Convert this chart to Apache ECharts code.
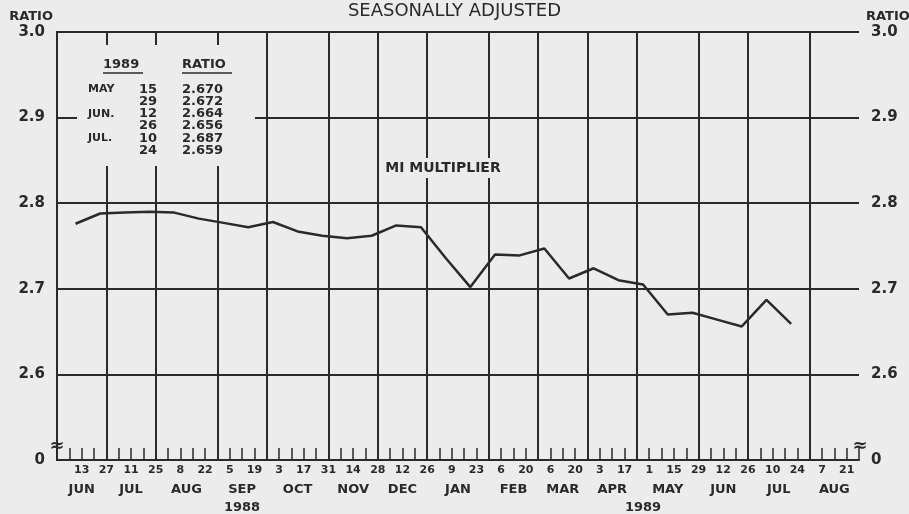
<!DOCTYPE html>
<html>
<head>
<meta charset="utf-8">
<script src="https://cdn.jsdelivr.net/npm/echarts@6/dist/echarts.min.js"></script>
<style>
  html,body{margin:0;padding:0;background:#ececec;}
  #chart{width:909px;height:514px;}
</style>
</head>
<body>
<div id="chart"></div>
<script>
// weekly calendar, Mondays from 1988-05-30 (week 0) to 1989-08-28 (week 65)
const startDate = '1988-05-30'
const monthNames = ['JUN','JUL','AUG','SEP','OCT','NOV','DEC','JAN','FEB','MAR','APR','MAY','JUN','JUL','AUG']
const weeksPerMonth = [4,4,5,4,5,4,4,5,4,4,4,5,4,5,4]
// day labels under every second Monday (weeks 2,4,...,64)
const dayLabels = ['13','27','11','25','8','22','5','19','3','17','31','14','28','12','26',
                   '9','23','6','20','6','20','3','17','1','15','29','12','26','10','24','7','21']
const yearLabels = ['1988','1989']
const yearWeeks = [15, 47.5]

// biweekly M1 multiplier, periods ending on these dates
const periodEnds = ['1988-06-13','1988-06-27','1988-07-11','1988-07-25','1988-08-08','1988-08-22',
  '1988-09-05','1988-09-19','1988-10-03','1988-10-17','1988-10-31','1988-11-14','1988-11-28',
  '1988-12-12','1988-12-26','1989-01-09','1989-01-23','1989-02-06','1989-02-20','1989-03-06',
  '1989-03-20','1989-04-03','1989-04-17','1989-05-01','1989-05-15','1989-05-29','1989-06-12',
  '1989-06-26','1989-07-10','1989-07-24']
const multiplier = [2.776,2.788,2.789,2.790,2.789,2.782,2.777,2.772,2.778,2.767,2.762,2.759,2.762,
  2.774,2.772,2.736,2.702,2.740,2.739,2.747,2.712,2.724,2.710,2.705,2.670,2.672,2.664,2.656,2.687,2.659]
const tableMonths = ['JAN.','FEB.','MAR.','APR.','MAY','JUN.','JUL.','AUG.','SEP.','OCT.','NOV.','DEC.']

const INK = '#2a2a2a'
const PAPER = '#ececec'
const FONT = 'DejaVu Sans'

function weekOf(d){
  return (Date.parse(d) - Date.parse(startDate)) / (7*86400000)
}

// month boundaries and centres on the week scale
const monthEnds = []
const monthCenters = []
let acc = 0
weeksPerMonth.forEach(w=>{
  monthCenters.push(acc + w/2)
  acc += w
  monthEnds.push(acc)
})
const totalWeeks = acc

const lineData = periodEnds.map((d,i)=>[weekOf(d) - 0.5, multiplier[i]])

// inset table from the last six periods
const lastN = 6
const rows = periodEnds.slice(-lastN).map((d,i)=>{
  const dt = new Date(d + 'T00:00:00Z')
  const m = dt.getUTCMonth()
  const prev = i>0 ? new Date(periodEnds[periodEnds.length-lastN+i-1]+'T00:00:00Z').getUTCMonth() : -1
  return {
    month: m!==prev ? tableMonths[m] : '',
    day: String(dt.getUTCDate()),
    val: multiplier[multiplier.length-lastN+i].toFixed(3)
  }
})

const chart = echarts.init(document.getElementById('chart'))

const yLabel = v => Math.abs(v-2.5)<1e-6 ? '0' : v.toFixed(1)

const option = {
  backgroundColor: PAPER,
  animation: false,
  textStyle: {fontFamily: FONT, color: INK},
  title: {
    text: 'SEASONALLY ADJUSTED',
    left: 'center',
    top: -3,
    textStyle: {fontFamily: FONT, fontSize: 18, fontWeight: 'normal', color: INK}
  },
  grid: {left: 57, right: 50, top: 32, bottom: 51},
  xAxis: [
    {
      type: 'value', min: 0, max: totalWeeks, interval: 1,
      axisLine: {show: true, lineStyle: {color: INK, width: 2}},
      axisTick: {show: true, inside: true, length: 12, lineStyle: {color: INK, width: 1.5}},
      splitLine: {show: false},
      axisLabel: {
        margin: 5, fontSize: 11, fontWeight: 'bold', color: INK, fontFamily: FONT,
        formatter: v => {
          const k = Math.round(v)
          return (k%2===0 && k>0 && k<totalWeeks) ? dayLabels[k/2-1] : ''
        }
      }
    },
    {
      type: 'value', min: 0, max: totalWeeks, interval: 0.5, position: 'bottom', offset: 18,
      axisLine: {show: false}, axisTick: {show: false}, splitLine: {show: false},
      axisLabel: {
        margin: 5, fontSize: 13, fontWeight: 'bold', color: INK, fontFamily: FONT,
        formatter: v => {
          const i = monthCenters.findIndex(c=>Math.abs(c-v)<0.01)
          return i>=0 ? monthNames[i] : ''
        }
      }
    },
    {
      type: 'value', min: 0, max: totalWeeks, interval: 0.5, position: 'bottom', offset: 36,
      axisLine: {show: false}, axisTick: {show: false}, splitLine: {show: false},
      axisLabel: {
        margin: 5, fontSize: 13, fontWeight: 'bold', color: INK, fontFamily: FONT,
        formatter: v => {
          const i = yearWeeks.findIndex(c=>Math.abs(c-v)<0.01)
          return i>=0 ? yearLabels[i] : ''
        }
      }
    }
  ],
  yAxis: [
    {
      type: 'value', min: 2.5, max: 3.0, interval: 0.1, position: 'left',
      axisLine: {show: true, lineStyle: {color: INK, width: 2}},
      axisTick: {show: false},
      splitLine: {show: true, lineStyle: {color: INK, width: 2}},
      axisLabel: {margin: 12, fontSize: 15, fontWeight: 'bold', color: INK, fontFamily: FONT, formatter: yLabel}
    },
    {
      type: 'value', min: 2.5, max: 3.0, interval: 0.1, position: 'right',
      axisLine: {show: true, lineStyle: {color: INK, width: 2}},
      axisTick: {show: false},
      splitLine: {show: false},
      axisLabel: {margin: 12, fontSize: 15, fontWeight: 'bold', color: INK, fontFamily: FONT, formatter: yLabel}
    }
  ],
  series: [
    {
      name: 'M1 MULTIPLIER',
      type: 'line',
      xAxisIndex: 0,
      yAxisIndex: 0,
      data: lineData,
      symbol: 'none',
      lineStyle: {color: INK, width: 2.5},
      z: 5,
      markLine: {
        silent: true,
        symbol: 'none',
        label: {show: false},
        lineStyle: {color: INK, width: 2, type: 'solid'},
        data: monthEnds.slice(0,-1).map(w=>({xAxis: w}))
      }
    }
  ],
  graphic: [
    // axis titles
    {type: 'text', z: 101, x: 53, y: 17, style: {text: 'RATIO', font: 'bold 13px "DejaVu Sans"', fill: INK, textAlign: 'right', textVerticalAlign: 'middle'}},
    {type: 'text', z: 101, x: 866, y: 17, style: {text: 'RATIO', font: 'bold 13px "DejaVu Sans"', fill: INK, textAlign: 'left', textVerticalAlign: 'middle'}},
    // inset table with a paper-coloured backing that breaks the grid
    {type: 'rect', z: 100, shape: {x: 77, y: 45, width: 178, height: 121}, style: {fill: PAPER}},
    {type: 'text', z: 101, left: 103, top: 58, style: {text: '1989', font: 'bold 13px "DejaVu Sans"', fill: INK}},
    {type: 'line', z: 101, shape: {x1: 103, y1: 73, x2: 143, y2: 73}, style: {stroke: INK, lineWidth: 1.5}},
    {type: 'text', z: 101, left: 182, top: 58, style: {text: 'RATIO', font: 'bold 13px "DejaVu Sans"', fill: INK}},
    {type: 'line', z: 101, shape: {x1: 182, y1: 73, x2: 232, y2: 73}, style: {stroke: INK, lineWidth: 1.5}},
    {type: 'text', z: 101, x: 88, y: 83, style: {text: rows.map(r=>r.month).join('\n'), font: 'bold 11px "DejaVu Sans"', lineHeight: 12.3, fill: INK, textAlign: 'left'}},
    {type: 'text', z: 101, x: 157, y: 83, style: {text: rows.map(r=>r.day).join('\n'), font: 'bold 13px "DejaVu Sans"', lineHeight: 12.3, fill: INK, textAlign: 'right'}},
    {type: 'text', z: 101, x: 182, y: 83, style: {text: rows.map(r=>r.val).join('\n'), font: 'bold 13px "DejaVu Sans"', lineHeight: 12.3, fill: INK, textAlign: 'left'}},
    // series label
    {type: 'text', z: 101, x: 443, y: 168, style: {text: 'MI MULTIPLIER', font: 'bold 14px "DejaVu Sans"', fill: INK, textAlign: 'center', textVerticalAlign: 'middle', backgroundColor: PAPER, padding: [3,5]}},
    // axis break marks
    {type: 'text', z: 101, x: 57, y: 446, style: {text: '≈', font: 'bold 18px "DejaVu Sans"', fill: INK, textAlign: 'center', textVerticalAlign: 'middle'}},
    {type: 'text', z: 101, x: 860, y: 446, style: {text: '≈', font: 'bold 18px "DejaVu Sans"', fill: INK, textAlign: 'center', textVerticalAlign: 'middle'}}
  ]
}

chart.setOption(option)
window.addEventListener('resize',()=>chart.resize())
</script>
</body>
</html>
